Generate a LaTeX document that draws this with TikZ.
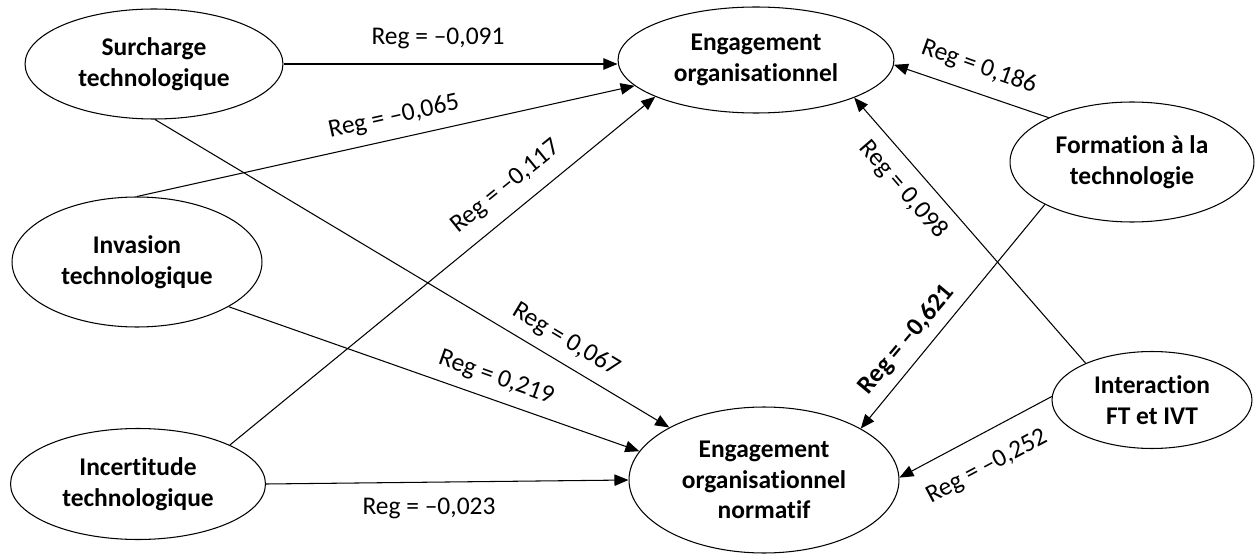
\documentclass[tikz,border=0pt]{standalone}
\usepackage{fontspec}
\setmainfont{Carlito}[Ligatures={NoCommon}]
\usetikzlibrary{shapes.geometric,arrows.meta}
\begin{document}
\begin{tikzpicture}[x=0.02cm,y=-0.02cm,
  var/.style={ellipse,draw,line width=0.6pt,inner sep=0pt,align=center,font=\fontsize{14.5}{17.5}\selectfont\bfseries},
  lab/.style={inner sep=0pt,font=\fontsize{14.5}{17.5}\selectfont},
  labb/.style={lab,font=\fontsize{14.5}{17.5}\selectfont\bfseries},
  arr/.style={line width=0.6pt,-{Triangle[length=8pt,width=6.5pt]}}]
\useasboundingbox (0,0) rectangle (1259,554);
\node[var,minimum width=5.16cm,minimum height=2.2cm] (s) at (154,64) {Surcharge\\technologique};
\node[var,minimum width=5.0cm,minimum height=2.6cm] (inv) at (137,262) {Invasion\\technologique};
\node[var,minimum width=5.1cm,minimum height=2.22cm] (inc) at (138,484) {Incertitude\\technologique};
\node[var,minimum width=5.52cm,minimum height=2.12cm] (eo) at (756,60) {Engagement\\organisationnel};
\node[var,minimum width=5.4cm,minimum height=2.92cm] (en) at (764,480) {Engagement\\organisationnel\\normatif};
\node[var,minimum width=4.88cm,minimum height=2.4cm] (form) at (1132,162) {Formation à la\\technologie};
\node[var,minimum width=4.0cm,minimum height=1.94cm] (inter) at (1152,400) {Interaction\\FT et IVT};

\draw[arr] (s.east) -- (s.east -| eo.west);
\draw[arr] (inv.north) -- (eo.192.5);
\draw[arr] (s.-89) -- (en.151);
\draw[arr] (inc.23) -- (eo.200.7);
\draw[arr] (inv.-26.6) -- (en.167);
\draw[arr] (inc.east) -- (en.west);
\draw[arr] (form.152.6) -- (eo.-2);
\draw[arr] (inter.151) -- (eo.-21.4);
\draw[arr] (form.206.8) -- (en.28.6);
\draw[arr] (inter.178) -- (en.1);

\node[lab] (l1) at (438,38) {Reg = –0,091};
\node[lab,rotate=12.5] (l2) at (394,117) {Reg = –0,065};
\node[lab,rotate=-30.8] (l3) at (566,340) {Reg = 0,067};
\node[lab,rotate=39] (l4) at (506,187) {Reg = –0,117};
\node[lab,rotate=-19.4] (l5) at (496,378) {Reg = 0,219};
\node[lab] (l6) at (429,508) {Reg = –0,023};
\node[lab,rotate=-19.5] (l7) at (979,67) {Reg = 0,186};
\node[lab,rotate=-49.1] (l8) at (903,190) {Reg = 0,098};
\node[labb,rotate=50] (l9) at (907,340) {Reg = –0,621};
\node[lab,rotate=27.9] (l10) at (987,467) {Reg = –0,252};
\end{tikzpicture}
\end{document}
